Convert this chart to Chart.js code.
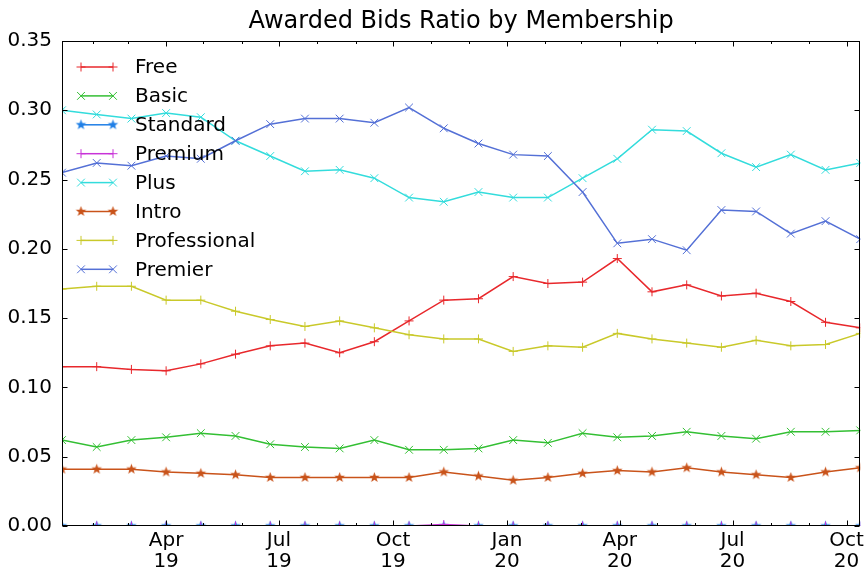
<!DOCTYPE html>
<html>
<head>
<meta charset="utf-8">
<script src="https://cdn.jsdelivr.net/npm/chart.js@4.4.0/dist/chart.umd.min.js"></script>
<style>
  body { margin: 0; background: #fff; }
  canvas { display: block; }
</style>
</head>
<body>
<canvas id="graficoRatio" width="868" height="572"></canvas>
<script>
// date dei punti (ogni 4 settimane)
const dates = ['2019-01-07', '2019-02-04', '2019-03-04', '2019-04-01', '2019-04-29', '2019-05-27',
  '2019-06-24', '2019-07-22', '2019-08-19', '2019-09-16', '2019-10-14', '2019-11-11',
  '2019-12-09', '2020-01-06', '2020-02-03', '2020-03-02', '2020-03-30', '2020-04-27',
  '2020-05-25', '2020-06-22', '2020-07-20', '2020-08-17', '2020-09-14', '2020-10-12'];

const free = [0.115, 0.115, 0.113, 0.112, 0.117, 0.124, 0.130, 0.132, 0.125, 0.133, 0.148, 0.163,
  0.164, 0.180, 0.175, 0.176, 0.193, 0.169, 0.174, 0.166, 0.168, 0.162, 0.147, 0.143];
const basic = [0.062, 0.057, 0.062, 0.064, 0.067, 0.065, 0.059, 0.057, 0.056, 0.062, 0.055, 0.055,
  0.056, 0.062, 0.060, 0.067, 0.064, 0.065, 0.068, 0.065, 0.063, 0.068, 0.068, 0.069];
const standard = [0, 0, 0, 0, 0, 0, 0, 0, 0, 0, 0, 0, 0, 0, 0, 0, 0, 0, 0, 0, 0, 0, 0, 0];
const premium = [0, 0, 0, 0, 0, 0, 0, 0, 0, 0, 0, 0.001, 0, 0, 0, 0, 0, 0, 0, 0, 0, 0, 0, 0];
const plus = [0.300, 0.297, 0.294, 0.298, 0.295, 0.278, 0.267, 0.256, 0.257, 0.251, 0.237, 0.234,
  0.241, 0.237, 0.237, 0.251, 0.265, 0.286, 0.285, 0.269, 0.259, 0.268, 0.257, 0.262];
const intro = [0.041, 0.041, 0.041, 0.039, 0.038, 0.037, 0.035, 0.035, 0.035, 0.035, 0.035, 0.039,
  0.036, 0.033, 0.035, 0.038, 0.040, 0.039, 0.042, 0.039, 0.037, 0.035, 0.039, 0.042];
const professional = [0.171, 0.173, 0.173, 0.163, 0.163, 0.155, 0.149, 0.144, 0.148, 0.143, 0.138, 0.135,
  0.135, 0.126, 0.130, 0.129, 0.139, 0.135, 0.132, 0.129, 0.134, 0.130, 0.131, 0.139];
const premier = [0.255, 0.262, 0.260, 0.267, 0.265, 0.278, 0.290, 0.294, 0.294, 0.291, 0.302, 0.287,
  0.276, 0.268, 0.267, 0.241, 0.204, 0.207, 0.199, 0.228, 0.227, 0.211, 0.220, 0.207];

// tick asse x
const majorTicks = ['2019-04-01', '2019-07-01', '2019-10-01', '2020-01-01', '2020-04-01', '2020-07-01', '2020-10-01'];
const majorLabels = [['Apr', '19'], ['Jul', '19'], ['Oct', '19'], ['Jan', '20'], ['Apr', '20'], ['Jul', '20'], ['Oct', '20']];
const minorTicks = ['2019-02-01', '2019-03-01', '2019-05-01', '2019-06-01', '2019-08-01', '2019-09-01',
  '2019-11-01', '2019-12-01', '2020-02-01', '2020-03-01', '2020-05-01', '2020-06-01', '2020-08-01', '2020-09-01'];
const yTicks = [0, 0.05, 0.10, 0.15, 0.20, 0.25, 0.30, 0.35];
const titolo = 'Awarded Bids Ratio by Membership';

const FONT = 'DejaVu Sans';
const toMs = s => Date.parse(s + 'T00:00:00Z');
const xs = dates.map(toMs);
const majorMs = majorTicks.map(toMs);
const minorMs = minorTicks.map(toMs);

// stella piena come immagine per pointStyle
function stella(color, r) {
  const c = document.createElement('canvas');
  const s = Math.ceil(r * 2 + 2);
  c.width = s; c.height = s;
  const g = c.getContext('2d');
  g.translate(s / 2, s / 2);
  g.beginPath();
  for (let i = 0; i < 10; i++) {
    const rr = i % 2 === 0 ? r : r * 0.42;
    const ang = -Math.PI / 2 + i * Math.PI / 5;
    g.lineTo(rr * Math.cos(ang), rr * Math.sin(ang));
  }
  g.closePath();
  g.fillStyle = color;
  g.fill();
  return c;
}

const serie = [
  { label: 'Free', data: free, color: '#e8282c', marker: 'cross', r: 4.5 },
  { label: 'Basic', data: basic, color: '#33bf33', marker: 'crossRot', r: 5.5 },
  { label: 'Standard', data: standard, color: '#1f7fe6', marker: 'star', r: 5.5 },
  { label: 'Premium', data: premium, color: '#c833d8', marker: 'cross', r: 4.5 },
  { label: 'Plus', data: plus, color: '#33dcdc', marker: 'crossRot', r: 5.5 },
  { label: 'Intro', data: intro, color: '#c9531a', marker: 'star', r: 5.5 },
  { label: 'Professional', data: professional, color: '#c9c92a', marker: 'cross', r: 4.5 },
  { label: 'Premier', data: premier, color: '#5470d6', marker: 'crossRot', r: 5.5 }
];

const datasets = serie.map((s, i) => ({
  label: s.label,
  data: s.data.map((v, k) => ({ x: xs[k], y: v })),
  borderColor: s.color,
  backgroundColor: s.color,
  borderWidth: 1.5,
  pointStyle: s.marker === 'star' ? stella(s.color, s.r) : s.marker,
  pointRadius: s.r,
  pointBorderWidth: 1,
  pointHoverRadius: s.r,
  tension: 0,
  order: serie.length - i   // l'ultima serie sopra, come matplotlib
}));

// cornice, tick interni, titolo e legenda dentro il grafico
const cornice = {
  id: 'cornice',
  afterDraw(chart) {
    const { ctx, chartArea: a, scales: { x, y } } = chart;
    const L = Math.round(a.left) + 0.5, R = Math.round(a.right) - 0.5;
    const T = Math.round(a.top) + 0.5, B = Math.round(a.bottom) - 0.5;
    ctx.save();
    ctx.strokeStyle = '#000';
    ctx.lineWidth = 1;
    ctx.beginPath();
    yTicks.forEach(v => {
      const py = Math.round(y.getPixelForValue(v)) + 0.5;
      ctx.moveTo(L, py); ctx.lineTo(L + 5, py);
      ctx.moveTo(R, py); ctx.lineTo(R - 5, py);
    });
    majorMs.forEach(v => {
      const px = Math.round(x.getPixelForValue(v)) + 0.5;
      ctx.moveTo(px, B); ctx.lineTo(px, B - 5);
      ctx.moveTo(px, T); ctx.lineTo(px, T + 5);
    });
    minorMs.forEach(v => {
      const px = Math.round(x.getPixelForValue(v)) + 0.5;
      ctx.moveTo(px, B); ctx.lineTo(px, B - 2.5);
      ctx.moveTo(px, T); ctx.lineTo(px, T + 2.5);
    });
    ctx.stroke();
    ctx.strokeRect(L, T, R - L, B - T);

    // titolo centrato sull'area del grafico
    ctx.fillStyle = '#000';
    ctx.font = '24px "' + FONT + '"';
    ctx.textAlign = 'center';
    ctx.textBaseline = 'middle';
    ctx.fillText(titolo, (a.left + a.right) / 2, 22);

    // legenda
    const x0 = 81, x1 = 113, y0 = 67, passo = 28.9;
    ctx.font = '20px "' + FONT + '"';
    ctx.textAlign = 'left';
    serie.forEach((s, i) => {
      const yy = y0 + i * passo;
      ctx.strokeStyle = s.color;
      ctx.lineWidth = 1.5;
      ctx.beginPath();
      ctx.moveTo(x0, yy); ctx.lineTo(x1, yy);
      ctx.stroke();
      [x0, x1].forEach(px => {
        ctx.lineWidth = 1;
        if (s.marker === 'star') {
          const img = datasets[i].pointStyle;
          ctx.drawImage(img, px - img.width / 2, yy - img.height / 2);
        } else if (s.marker === 'cross') {
          ctx.beginPath();
          ctx.moveTo(px - s.r, yy); ctx.lineTo(px + s.r, yy);
          ctx.moveTo(px, yy - s.r); ctx.lineTo(px, yy + s.r);
          ctx.stroke();
        } else {
          const d = s.r * Math.SQRT1_2;
          ctx.beginPath();
          ctx.moveTo(px - d, yy - d); ctx.lineTo(px + d, yy + d);
          ctx.moveTo(px - d, yy + d); ctx.lineTo(px + d, yy - d);
          ctx.stroke();
        }
      });
      ctx.fillStyle = '#000';
      ctx.fillText(s.label, 135, yy + 1);
    });
    ctx.restore();
  }
};

new Chart(document.getElementById('graficoRatio'), {
  type: 'line',
  data: { datasets },
  plugins: [cornice],
  options: {
    responsive: false,
    animation: false,
    devicePixelRatio: 1,
    layout: { padding: { left: 0, right: 4, top: 41, bottom: 0 } },
    plugins: {
      legend: { display: false },
      tooltip: { enabled: false },
      title: { display: false }
    },
    scales: {
      x: {
        type: 'linear',
        min: xs[0],
        max: xs[xs.length - 1],
        grid: { display: false, drawTicks: false },
        border: { display: false },
        afterBuildTicks: axis => {
          axis.ticks = majorMs.map(v => ({ value: v }));
        },
        afterFit: axis => { axis.height = 46; },
        ticks: {
          autoSkip: false,
          maxRotation: 0,
          padding: 4,
          color: '#000',
          font: { family: FONT, size: 20, lineHeight: 1.05 },
          callback: value => {
            const k = majorMs.indexOf(value);
            return k >= 0 ? majorLabels[k] : '';
          }
        }
      },
      y: {
        min: 0,
        max: 0.35,
        grid: { display: false, drawTicks: false },
        border: { display: false },
        afterFit: axis => { axis.width = 62; },
        ticks: {
          stepSize: 0.05,
          padding: 10,
          color: '#000',
          font: { family: FONT, size: 20 },
          callback: value => value.toFixed(2)
        }
      }
    }
  }
});
</script>
</body>
</html>
